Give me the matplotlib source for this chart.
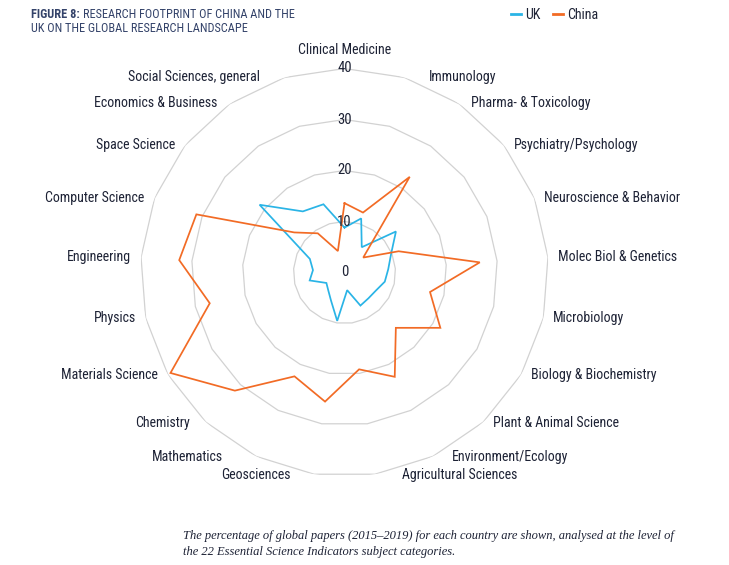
import numpy as np
import matplotlib
matplotlib.use("Agg")
import matplotlib.pyplot as plt
from matplotlib.lines import Line2D

categories = ["Clinical Medicine", "Immunology", "Pharma- & Toxicology",
              "Psychiatry/Psychology", "Neuroscience & Behavior",
              "Molec Biol & Genetics", "Microbiology", "Biology & Biochemistry",
              "Plant & Animal Science", "Environment/Ecology",
              "Agricultural Sciences", "Geosciences", "Mathematics", "Chemistry",
              "Materials Science", "Physics", "Engineering", "Computer Science",
              "Space Science", "Economics & Business", "Social Sciences, general"]
uk = [8.8, 11.1, 6.0, 12.9, 9.8, 8.6, 8.1, 7.1, 6.9, 7.2, 3.5, 9.6, 6.1, 4.7,
      4.1, 7.0, 6.2, 7.3, 21.3, 14.5, 14.0]
china = [13.6, 12.3, 22.7, 4.7, 11.4, 26.6, 17.2, 21.7, 14.8, 22.7, 19.2, 25.6,
         22.6, 31.6, 39.4, 27.1, 32.5, 31.2, 12.6, 9.3, 4.4]
ticks = [0, 10, 20, 30, 40]
series_names = ["UK", "China"]
colors = ["#2ab4e6", "#f26b25"]

SANS = ["Liberation Sans Narrow", "Roboto Condensed", "Liberation Sans", "DejaVu Sans"]
SERIF = ["Liberation Serif", "DejaVu Serif"]
TXT = "#1d2235"
NAVY = "#34436a"

# layout-only horizontal nudges (pixels) for a few category labels
label_nudge = {"Mathematics": -14, "Chemistry": -6, "Geosciences": 4}

W, H = 729, 565
fig = plt.figure(figsize=(W / 100, H / 100), dpi=100)
cx, cy, R = 344.5, 272.5, 204.0
ax = fig.add_axes([(cx - R) / W, (H - cy - R) / H, 2 * R / W, 2 * R / H], polar=True)
ax.set_theta_zero_location("N")
ax.set_theta_direction(-1)
ax.set_ylim(0, 40)
ax.grid(False)
ax.spines["polar"].set_visible(False)
ax.set_xticks([])
ax.set_yticks([])
ax.patch.set_alpha(0)

n = len(categories)
ang = np.arange(n) * 2 * np.pi / n
closed = np.append(ang, ang[0])

for t in ticks[1:]:
    ax.plot(closed, [t] * (n + 1), color="#d2d2d2", lw=0.9, zorder=1)

for vals, c in zip([uk, china], colors):
    ax.plot(closed, list(vals) + [vals[0]], color=c, lw=1.25, zorder=3,
            solid_joinstyle="miter")

for t in ticks:
    ax.text(0, t, str(t), ha="center", va="center", fontsize=10.5, color=TXT,
            family=SANS, zorder=5)

r_lab = 205.0 / R * 40
for a, lab in zip(ang, categories):
    s, c = np.sin(a), np.cos(a)
    if abs(s) < 1e-6:
        ax.annotate(lab, xy=(a, r_lab), xytext=(0, 17 if c > 0 else -17),
                    textcoords="offset pixels", ha="center", va="center",
                    fontsize=10, color=TXT, family=SANS, annotation_clip=False)
        continue
    pad = 9 + 19 * max(0.0, abs(c) - 0.8) / 0.2
    ha = "left" if s > 0 else "right"
    ax.annotate(lab, xy=(a, r_lab),
                xytext=(pad * np.sign(s) + label_nudge.get(lab, 0), 0),
                textcoords="offset pixels", ha=ha, va="center",
                fontsize=10, color=TXT, family=SANS, annotation_clip=False)

# title
t1 = fig.text(31 / W, 1 - 15 / H, "FIGURE 8:", ha="left", va="center",
              fontsize=8.8, fontweight="bold", color=NAVY, family=SANS)
fig.canvas.draw()
bb = t1.get_window_extent()
fig.text((bb.x1 + 3) / W, 1 - 15 / H, "RESEARCH FOOTPRINT OF CHINA AND THE",
         ha="left", va="center", fontsize=8.8, color=NAVY, family=SANS)
fig.text(31 / W, 1 - 28 / H, "UK ON THE GLOBAL RESEARCH LANDSCAPE",
         ha="left", va="center", fontsize=8.8, color=NAVY, family=SANS)

handles = [Line2D([], [], color=c, lw=2) for c in colors]
fig.legend(handles, series_names, loc="center left",
           bbox_to_anchor=(511 / W, 1 - 15 / H), ncol=2, frameon=False,
           handlelength=0.75, handletextpad=0.25, columnspacing=0.9,
           prop={"family": SANS, "size": 10}, labelcolor=TXT,
           borderaxespad=0, borderpad=0)

cap_kw = dict(ha="left", va="center", fontsize=9.0, style="italic",
              color="#1d2235", family=SERIF)
fig.text(183 / W, 1 - 536 / H,
         "The percentage of global papers (2015\u20132019) for each country are shown, analysed at the level of",
         **cap_kw)
fig.text(183 / W, 1 - 552 / H,
         "the 22 Essential Science Indicators subject categories.", **cap_kw)

fig.savefig("out.png", dpi=100)
